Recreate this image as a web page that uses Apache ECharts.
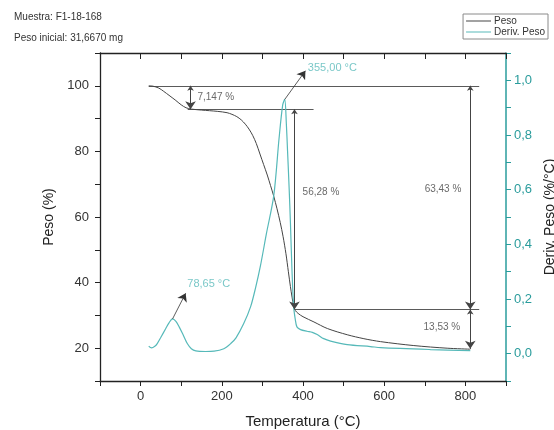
<!DOCTYPE html>
<html>
<head>
<meta charset="utf-8">
<script src="https://cdn.jsdelivr.net/npm/echarts@6/dist/echarts.min.js"></script>
<style>
  html, body { margin: 0; padding: 0; background: #fff; }
  #chart { width: 554px; height: 430px; }
</style>
</head>
<body>
<div id="chart"></div>
<script>
// TGA run: weight (%) and its derivative (%/°C) versus temperature
const tempPeso = [20, 30, 45, 57, 70, 85, 100, 112, 125, 150, 190, 213, 225, 237, 248, 258, 267, 276, 285, 294, 303, 312, 320, 328, 336, 344, 351, 358, 364, 369, 373, 377, 381, 388, 400, 427, 460, 509, 550, 591, 673, 755, 812];
const peso     = [100, 99.9, 99.3, 98.3, 97.1, 95.7, 94.2, 93.3, 92.9, 92.6, 92.2, 91.8, 91.3, 90.6, 89.6, 88.3, 86.8, 84.9, 82.4, 79.2, 76.0, 72.8, 69.6, 66.3, 62.5, 58.3, 54.0, 48.8, 43.3, 38.8, 35.6, 32.8, 31.5, 30.6, 29.6, 28.0, 26.0, 24.1, 22.9, 22.0, 20.8, 20.0, 19.7];

const tempDeriv = [20, 27, 35, 41, 50, 62, 70, 78.65, 87, 95, 105, 115, 125, 136, 160, 181, 205, 222, 235, 254, 271, 283, 295, 310, 328, 341, 350, 355, 359, 362, 366, 369, 373, 377, 381, 385, 394, 410, 423, 435, 451, 468, 509, 566, 591, 714, 812];
const deriv     = [0.027, 0.021, 0.027, 0.037, 0.060, 0.092, 0.113, 0.127, 0.118, 0.098, 0.068, 0.037, 0.018, 0.010, 0.008, 0.009, 0.018, 0.037, 0.058, 0.110, 0.172, 0.240, 0.320, 0.440, 0.578, 0.787, 0.910, 0.930, 0.840, 0.740, 0.600, 0.480, 0.300, 0.172, 0.125, 0.098, 0.088, 0.082, 0.078, 0.070, 0.055, 0.046, 0.033, 0.026, 0.022, 0.015, 0.011];

// Weight steps marked on the curve and the percentage losses between them
const stepLevels = [100, 92.85, 31.8, 19.8];
const stepLabels = ['7,147 %', '56,28 %', '63,43 %', '13,53 %'];

// Peak temperatures of the derivative curve
const peakTemps  = [78.65, 355.00];
const peakValues = [0.127, 0.930];
const peakLabels = ['78,65 °C', '355,00 °C'];

const header = ['Muestra: F1-18-168', 'Peso inicial: 31,6670 mg'];

const FONT = 'Liberation Sans, Arial, Helvetica, sans-serif';
const DARK = '#444444';
const TEAL = '#56b9b9';
const TEAL_AXIS = '#2a9c9c';

const toXY = (xs, ys) => xs.map((x, i) => [x, ys[i]]);

const chart = echarts.init(document.getElementById('chart'), null, { renderer: 'canvas' });

// Dimension arrows (both heads) and guide lines for the weight steps
const L = stepLevels;
const guideLines = [
  { coords: [[20, L[0]], [834, L[0]]] },
  { coords: [[116, L[1]], [426, L[1]]] },
  { coords: [[379, L[2]], [834, L[2]]] }
];
const dimArrows = [
  { coords: [[123, L[0]], [123, L[1]]] },
  { coords: [[379, L[1]], [379, L[2]]] },
  { coords: [[812, L[0]], [812, L[2]]] },
  { coords: [[812, L[2]], [812, L[3]]] }
];
const stepTextPts = [
  { value: [140, (L[0] + L[1]) / 2], name: stepLabels[0], label: { align: 'left' } },
  { value: [399, 67.5], name: stepLabels[1], label: { align: 'left' } },
  { value: [790, 68.4], name: stepLabels[2], label: { align: 'right' } },
  { value: [742, 26.3], name: stepLabels[3], label: { align: 'center' } }
];

// Leader arrows from each derivative peak to its label
const peakArrows = [
  { coords: [[peakTemps[0], peakValues[0]], [111, 0.221]] },
  { coords: [[peakTemps[1], peakValues[1]], [406, 1.035]] }
];
const peakTextPts = [
  { value: [115, 0.255], name: peakLabels[0] },
  { value: [412, 1.045], name: peakLabels[1] }
];

const xLabel = v => (v >= 0 && v <= 800 && v % 200 === 0) ? String(v) : '';
const yLabel = v => (v >= 20 && v <= 100 && v % 20 === 0) ? String(v) : '';
const dLabel = v => {
  const k = Math.round(v * 10);
  return (k >= 0 && k <= 10 && k % 2 === 0) ? (k / 10).toFixed(1).replace('.', ',') : '';
};

chart.setOption({
  animation: false,
  textStyle: { fontFamily: FONT },
  title: [
    { text: header[0], left: 9, top: 7, textStyle: { fontSize: 10, fontWeight: 'normal', color: '#333', fontFamily: FONT } },
    { text: header[1], left: 9, top: 28, textStyle: { fontSize: 10, fontWeight: 'normal', color: '#333', fontFamily: FONT } }
  ],
  legend: {
    orient: 'vertical',
    right: 6,
    top: 14,
    padding: [2, 3, 2, 3],
    itemGap: 1,
    itemWidth: 25,
    itemHeight: 1,
    borderColor: '#8a8a8a',
    borderWidth: 1,
    icon: 'rect',
    textStyle: { fontSize: 10, color: '#333', fontFamily: FONT, padding: [0, 0, 0, -2] },
    data: ['Peso', 'Deriv. Peso']
  },
  grid: { left: 100, right: 48, top: 53, bottom: 49, outerBoundsMode: 'none', containLabel: false },
  xAxis: [
    {
      type: 'value', position: 'bottom', min: -100, max: 900, interval: 100,
      name: 'Temperatura (°C)', nameLocation: 'middle', nameGap: 33,
      nameTextStyle: { fontSize: 15, color: '#222', fontFamily: FONT },
      axisLine: { onZero: false, lineStyle: { color: '#222', width: 1.3 } },
      axisTick: { inside: false, length: 5, lineStyle: { color: '#222' } },
      axisLabel: { formatter: xLabel, fontSize: 13, color: '#333', margin: 9, fontFamily: FONT },
      splitLine: { show: false }
    },
    {
      type: 'value', position: 'top', min: -100, max: 900, interval: 100,
      axisLine: { onZero: false, lineStyle: { color: '#222', width: 1.3 } },
      axisTick: { inside: true, length: 6, lineStyle: { color: '#222' } },
      axisLabel: { show: false },
      splitLine: { show: false }
    }
  ],
  yAxis: [
    {
      type: 'value', position: 'left', min: 10, max: 110, interval: 10,
      name: 'Peso (%)', nameLocation: 'middle', nameGap: 43, nameRotate: 90,
      nameTextStyle: { fontSize: 14, color: '#222', fontFamily: FONT },
      axisLine: { show: true, onZero: false, lineStyle: { color: '#222', width: 1.3 } },
      axisTick: { inside: false, length: 5, lineStyle: { color: '#222' } },
      axisLabel: { formatter: yLabel, fontSize: 13, color: '#333', margin: 11, fontFamily: FONT },
      splitLine: { show: false }
    },
    {
      type: 'value', position: 'right', min: -0.1, max: 1.1, interval: 0.1,
      name: 'Deriv. Peso (%/°C)', nameLocation: 'middle', nameGap: 34, nameRotate: 90,
      nameTextStyle: { fontSize: 14, color: '#222', fontFamily: FONT },
      axisLine: { show: true, onZero: false, lineStyle: { color: TEAL_AXIS, width: 1.5 } },
      axisTick: { inside: false, length: 5, lineStyle: { color: TEAL_AXIS } },
      axisLabel: { formatter: dLabel, fontSize: 13, color: TEAL_AXIS, margin: 8, fontFamily: FONT },
      splitLine: { show: false }
    }
  ],
  series: [
    {
      name: 'Peso', type: 'line', xAxisIndex: 0, yAxisIndex: 0,
      data: toXY(tempPeso, peso), showSymbol: false, smooth: 0.3,
      lineStyle: { color: DARK, width: 1 }, itemStyle: { color: DARK }, z: 3
    },
    {
      name: 'Deriv. Peso', type: 'line', xAxisIndex: 0, yAxisIndex: 1,
      data: toXY(tempDeriv, deriv), showSymbol: false, smooth: 0.3,
      lineStyle: { color: TEAL, width: 1.2 }, itemStyle: { color: TEAL }, z: 3
    },
    {
      type: 'lines', coordinateSystem: 'cartesian2d', xAxisIndex: 0, yAxisIndex: 0,
      data: guideLines, symbol: 'none', silent: true,
      lineStyle: { color: '#5a5a5a', width: 1, opacity: 1 }, z: 2
    },
    {
      type: 'lines', coordinateSystem: 'cartesian2d', xAxisIndex: 0, yAxisIndex: 0,
      data: dimArrows, symbol: ['arrow', 'arrow'], symbolSize: [5, 8], silent: true,
      lineStyle: { color: '#444', width: 1, opacity: 1 }, itemStyle: { color: '#111' }, z: 4
    },
    {
      type: 'lines', coordinateSystem: 'cartesian2d', xAxisIndex: 0, yAxisIndex: 1,
      data: peakArrows, symbol: ['none', 'arrow'], symbolSize: [5, 8], silent: true,
      lineStyle: { color: '#333', width: 0.8, opacity: 1 }, itemStyle: { color: '#111' }, z: 4
    },
    {
      type: 'scatter', xAxisIndex: 0, yAxisIndex: 0, symbolSize: 0, silent: true,
      data: stepTextPts,
      label: { show: true, position: 'inside', formatter: p => p.name, fontSize: 10, color: '#444', fontFamily: FONT, verticalAlign: 'middle' },
      z: 5
    },
    {
      type: 'scatter', xAxisIndex: 0, yAxisIndex: 1, symbolSize: 0, silent: true,
      data: peakTextPts,
      label: { show: true, position: 'inside', align: 'left', formatter: p => p.name, fontSize: 11, color: TEAL, fontFamily: FONT, verticalAlign: 'middle' },
      z: 5
    }
  ]
});
</script>
</body>
</html>
